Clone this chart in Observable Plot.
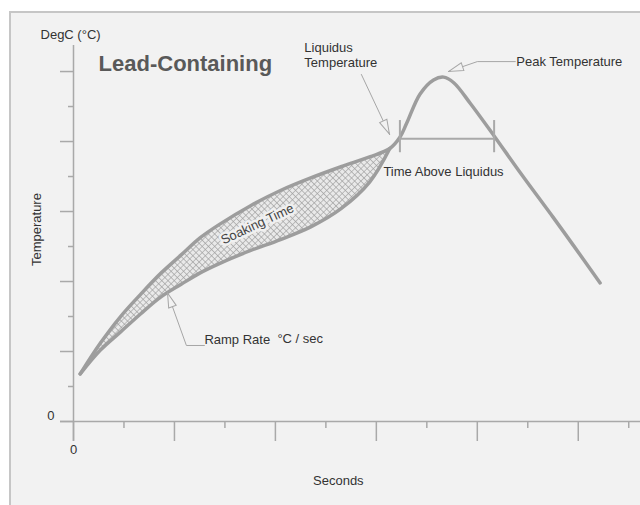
<!DOCTYPE html>
<html><head><meta charset="utf-8">
<script src="https://cdn.jsdelivr.net/npm/d3@7"></script>
<script src="https://cdn.jsdelivr.net/npm/@observablehq/plot@0.6"></script>
<style>
html,body{margin:0;padding:0;background:#fff;}
#wrap{position:relative;width:640px;height:505px;overflow:hidden;font-family:"Liberation Sans",Arial,sans-serif;}
#panel{position:absolute;left:9px;top:11px;right:0;bottom:0;background:#f2f2f2;border-left:2px solid #c6c6c6;border-top:2px solid #c6c6c6;}
#chart{position:absolute;left:0;top:0;}
</style></head>
<body><div id="wrap"><div id="panel"></div><div id="chart"></div></div>
<script>
// ---- data (seconds, °C) ----
const bandSeconds   = [4, 16, 28, 40, 52, 64, 75, 87, 105, 123, 141, 159, 176, 188];
const bandUpperTemp = [34, 56, 75, 91, 106, 119, 131, 141, 154, 165, 174, 182, 189, 195];
const bandLowerTemp = [34, 51, 64, 77, 89, 98, 106, 113, 122, 130, 139, 152, 171, 195];
const peakSeconds   = [194, 198, 206, 214, 220, 226, 236, 250, 266, 285, 297, 313];
const peakTemp      = [203, 213, 234, 244, 246, 242, 227, 204, 177, 146, 126, 99];
const liquidusTemp  = 202;
const aboveLiquidus = [194, 250];
const yMajor = [0, 50, 100, 150, 200, 250];
const yMinor = [25, 75, 125, 175, 225];
const xMajor = [0, 60, 120, 180, 240, 300];
const xMinor = [30, 90, 150, 210, 270, 330];
const zeroLabel = "0";

const band = bandSeconds.map((s, i) => ({s, lo: bandLowerTemp[i], hi: bandUpperTemp[i]}));
const upper = bandSeconds.map((s, i) => ({s, t: bandUpperTemp[i]}))
  .concat(peakSeconds.map((s, i) => ({s, t: peakTemp[i]})));
const lower = bandSeconds.map((s, i) => ({s, t: bandLowerTemp[i]}));

const leaders = [
  {id: "liq", s: 171.1, t: 247.9}, {id: "liq", s: 187.9, t: 205.0},
  {id: "peak", s: 262.6, t: 257.1}, {id: "peak", s: 240.0, t: 257.1}, {id: "peak", s: 222.8, t: 250.0},
  {id: "ramp", s: 77.8, t: 54.3}, {id: "ramp", s: 67.1, t: 54.3}, {id: "ramp", s: 55.8, t: 92.1}
];

const axisColor = "#a9a9a9";
const curveColor = "#9d9d9d";
const txt = "#333";
const fs = 13;

const plot = Plot.plot({
  width: 640, height: 505,
  marginLeft: 73, marginRight: 0, marginTop: 45, marginBottom: 84,
  x: {domain: [0, 337]},
  y: {domain: [0, 268.6]},
  style: {background: "transparent", fontFamily: "'Liberation Sans', Arial, sans-serif", fontSize: "13px", color: txt, overflow: "visible"},
  marks: [
    Plot.ruleX([0], {y1: -14.3, y2: 268.6, stroke: axisColor, strokeWidth: 1.5}),
    Plot.ruleY([0], {x1: -7.7, x2: 337, stroke: axisColor, strokeWidth: 1.5}),
    Plot.axisY(yMajor, {tickSize: 13, tickFormat: () => "", stroke: axisColor, strokeWidth: 1.5, label: null}),
    Plot.axisY(yMinor, {tickSize: 5, tickFormat: () => "", stroke: axisColor, strokeWidth: 1.5, label: null}),
    Plot.text([zeroLabel], {x: 0, y: 0, dx: -19, dy: -6, textAnchor: "end", fill: txt, fontSize: fs}),
    Plot.axisX(xMajor, {tickSize: 20, tickPadding: 3, tickFormat: d => d === 0 ? zeroLabel : "", stroke: axisColor, strokeWidth: 1.5, fill: txt, fontSize: fs, label: null}),
    Plot.axisX(xMinor, {tickSize: 7, tickFormat: () => "", stroke: axisColor, strokeWidth: 1.5, label: null}),
    Plot.areaY(band, {x: "s", y1: "lo", y2: "hi", fill: "url(#xhatch)", curve: "catmull-rom"}),
    Plot.text(["Soaking Time"], {x: 109.3, y: 141.0, rotate: -25, fill: "#444", fontSize: fs, stroke: "#f0f0f0", strokeWidth: 5}),
    Plot.line(lower, {x: "s", y: "t", stroke: curveColor, strokeWidth: 3.5, curve: "catmull-rom", strokeLinecap: "round"}),
    Plot.line(upper, {x: "s", y: "t", stroke: curveColor, strokeWidth: 3.5, curve: "catmull-rom", strokeLinecap: "round"}),
    Plot.ruleY([liquidusTemp], {x1: aboveLiquidus[0], x2: aboveLiquidus[1], stroke: axisColor, strokeWidth: 2}),
    Plot.ruleX(aboveLiquidus, {y1: 192, y2: 215, stroke: axisColor, strokeWidth: 2}),
    Plot.line(leaders, {x: "s", y: "t", z: "id", stroke: "#a6a6a6", strokeWidth: 1, ariaDescription: "leader"}),
    Plot.text(["Lead-Containing"], {x: 14.9, y: 255.7, textAnchor: "start", fontSize: 22, fontWeight: "bold", fill: "#595959"}),
    Plot.text(["Liquidus\nTemperature"], {x: 137.2, y: 261.8, textAnchor: "start", lineHeight: 1.15, fill: txt, fontSize: fs}),
    Plot.text(["Peak Temperature"], {x: 263.2, y: 257.1, textAnchor: "start", fill: txt, fontSize: fs}),
    Plot.text(["Time Above Liquidus"], {x: 184.2, y: 178.6, textAnchor: "start", fill: txt, fontSize: fs}),
    Plot.text(["Ramp Rate"], {x: 77.8, y: 58.6, textAnchor: "start", fill: txt, fontSize: fs}),
    Plot.text(["°C / sec"], {x: 121.2, y: 59.3, textAnchor: "start", fill: txt, fontSize: fs}),
    Plot.text(["DegC (°C)"], {x: -19.6, y: 276.4, textAnchor: "start", fill: txt, fontSize: fs}),
    Plot.text(["Temperature"], {x: -22.0, y: 137.1, rotate: -90, fill: txt, fontSize: fs}),
    Plot.text(["Seconds"], {x: 157.4, y: -42.1, fill: txt, fontSize: fs})
  ]
});

const svg = d3.select(plot);
const defs = svg.insert("defs", ":first-child");
const ps = 4.4;
const pat = defs.append("pattern").attr("id", "xhatch").attr("width", ps).attr("height", ps)
  .attr("patternUnits", "userSpaceOnUse").attr("patternTransform", "rotate(45)");
pat.append("rect").attr("width", ps).attr("height", ps).attr("fill", "#e9e9e9");
pat.append("path").attr("d", `M0,0H${ps}M0,0V${ps}`).attr("stroke", "#9e9e9e").attr("stroke-width", 1.2);
const mk = defs.append("marker").attr("id", "hollowArrow").attr("viewBox", "0 0 16 10")
  .attr("refX", 16).attr("refY", 5).attr("markerWidth", 16).attr("markerHeight", 10)
  .attr("markerUnits", "userSpaceOnUse").attr("orient", "auto");
mk.append("path").attr("d", "M1,1L15.5,5L1,9Z").attr("fill", "#f2f2f2").attr("stroke", "#a6a6a6").attr("stroke-width", 1);
svg.selectAll('g[aria-description="leader"] path').attr("marker-end", "url(#hollowArrow)");

document.getElementById("chart").appendChild(plot);
</script>
</body></html>
